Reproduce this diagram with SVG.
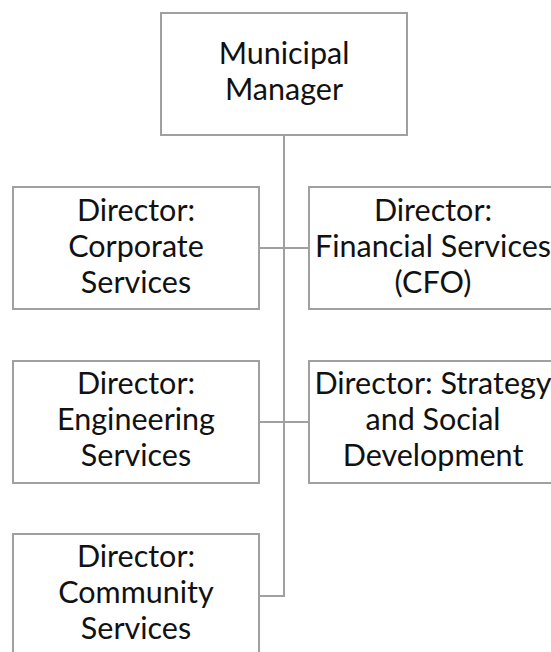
<svg xmlns="http://www.w3.org/2000/svg" width="551" height="652" viewBox="0 0 551 652">
<style>
.box{fill:#ffffff;stroke:#a0a0a0;stroke-width:2}
.con{fill:none;stroke:#a0a0a0;stroke-width:2}
text{font-family:Lato,"Open Sans",sans-serif;font-size:30.5px;fill:#111111;text-anchor:middle}
</style>
<rect width="551" height="652" fill="#ffffff"/>
<g id="connectors">
<path class="con" d="M284 135 V596 H259"/>
<path class="con" d="M259 248 H309"/>
<path class="con" d="M259 422 H309"/>
</g>
<g id="municipal-manager">
<rect class="box" x="161" y="13" width="246" height="122"/>
<text x="284" y="64">Municipal</text>
<text x="284" y="100">Manager</text>
</g>
<g id="corporate">
<rect class="box" x="13" y="187" width="246" height="122"/>
<text x="136" y="221">Director:</text>
<text x="136" y="257">Corporate</text>
<text x="136" y="293">Services</text>
</g>
<g id="financial">
<rect class="box" x="309" y="187" width="247" height="122"/>
<text x="433" y="221">Director:</text>
<text x="433" y="257">Financial Services</text>
<text x="433" y="293">(CFO)</text>
</g>
<g id="engineering">
<rect class="box" x="13" y="361" width="246" height="122"/>
<text x="136" y="394">Director:</text>
<text x="136" y="430">Engineering</text>
<text x="136" y="466">Services</text>
</g>
<g id="strategy">
<rect class="box" x="309" y="361" width="247" height="122"/>
<text x="433" y="394">Director: Strategy</text>
<text x="433" y="430">and Social</text>
<text x="433" y="466">Development</text>
</g>
<g id="community">
<rect class="box" x="13" y="534" width="246" height="122"/>
<text x="136" y="567">Director:</text>
<text x="136" y="603">Community</text>
<text x="136" y="639">Services</text>
</g>
</svg>
